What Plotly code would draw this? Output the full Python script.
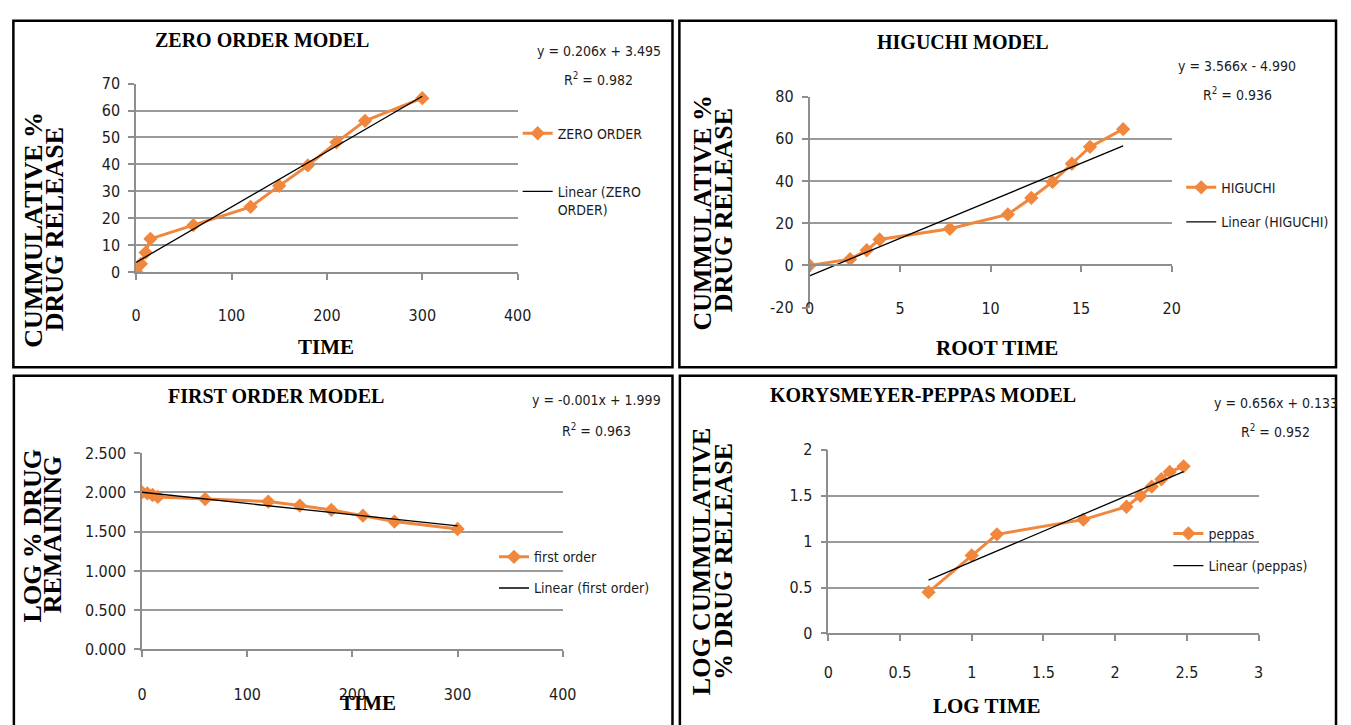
import numpy as np
import plotly.graph_objects as go

W, H = 1351, 725

# ---------------------------------------------------------------- data
time_min = [0, 5, 10, 15, 60, 120, 150, 180, 210, 240, 300]
cum_release = [0, 3.0, 7.2, 12.3, 17.4, 24.2, 32.0, 39.6, 48.2, 56.2, 64.6]
root_time = [0, 2.24, 3.16, 3.87, 7.75, 10.95, 12.25, 13.42, 14.49, 15.49, 17.32]
log_remaining = [2.000, 1.987, 1.966, 1.942, 1.915, 1.882, 1.832, 1.776, 1.703, 1.628, 1.533]
log_time = [0.699, 1.000, 1.176, 1.778, 2.079, 2.176, 2.255, 2.322, 2.380, 2.477]
log_release = [0.45, 0.85, 1.08, 1.24, 1.38, 1.50, 1.60, 1.68, 1.76, 1.82]

# regression text printed on each panel
eq_zero = ["y = 0.206x + 3.495", "R<sup>2</sup> = 0.982"]
eq_higuchi = ["y = 3.566x - 4.990", "R<sup>2</sup> = 0.936"]
eq_first = ["y = -0.001x + 1.999", "R<sup>2</sup> = 0.963"]
eq_peppas = ["y = 0.656x + 0.133", "R<sup>2</sup> = 0.952"]

higuchi_yticks = [-20, 0, 20, 40, 60, 80]
higuchi_yticktext = ["-20", "0", "20", "40", "60", "80"]

# ---------------------------------------------------------------- style
ORANGE = "#F0873C"
GRID = "#9a9a9a"
AXC = "#8e8e8e"
TXT = "#1c1c1c"
NARROW = "DejaVu Sans Condensed, Liberation Sans, sans-serif"
SERIF = "Liberation Serif, Times New Roman, serif"

tick_font = dict(family=NARROW, size=16, color=TXT)
leg_font = dict(family=NARROW, size=14, color=TXT)


def fx(p):
    # pixel -> paper fraction
    return p / W


def fy(p):
    return 1 - p / H


def xdom(a, b):
    return [fx(a), fx(b)]


def ydom(top, bottom):
    return [fy(bottom), fy(top)]


def y_axis(dom, rng, anchor, **kw):
    d = dict(domain=dom, range=rng, anchor=anchor, showgrid=True, gridcolor=GRID,
             gridwidth=1.5, showline=True, linecolor=AXC, linewidth=1.5,
             ticks="outside", ticklen=6, tickwidth=1.5, tickcolor=AXC,
             ticklabelstandoff=5, tickfont=tick_font, zeroline=False, fixedrange=True)
    d.update(kw)
    return d


def x_axis(dom, rng, anchor, dtick, standoff, **kw):
    d = dict(domain=dom, range=rng, anchor=anchor, dtick=dtick, showgrid=False,
             showline=True, linecolor=AXC, linewidth=1.5, ticks="outside",
             ticklen=6, tickwidth=1.5, tickcolor=AXC, ticklabelstandoff=standoff,
             tickfont=tick_font, zeroline=False, fixedrange=True)
    d.update(kw)
    return d


def legend_at(xpx, ypx, valign="middle"):
    return dict(x=fx(xpx), y=fy(ypx), xanchor="left", yanchor="middle",
                bgcolor="rgba(0,0,0,0)", borderwidth=0, font=leg_font, visible=True,
                itemwidth=30, valign=valign, itemclick=False, itemdoubleclick=False)


fig = go.Figure()


def add_panel(xs, ys, xa, ya, name, trend_name, leg_a, leg_b):
    fig.add_trace(go.Scatter(
        x=xs, y=ys, xaxis=xa, yaxis=ya, mode="lines+markers", name=name,
        line=dict(color=ORANGE, width=3), legend=leg_a, showlegend=True,
        marker=dict(symbol="diamond", size=11, color=ORANGE), hoverinfo="skip"))
    slope, icpt = np.polyfit(xs, ys, 1)
    tx = [min(xs), max(xs)]
    fig.add_trace(go.Scatter(
        x=tx, y=[slope * v + icpt for v in tx], xaxis=xa, yaxis=ya, mode="lines",
        name=trend_name, line=dict(color="#000000", width=1.3), legend=leg_b,
        showlegend=True, hoverinfo="skip"))


add_panel(time_min, cum_release, "x", "y", "ZERO ORDER", "Linear (ZERO<br>ORDER)",
          "legend", "legend2")
add_panel(root_time, cum_release, "x2", "y2", "HIGUCHI", "Linear (HIGUCHI)",
          "legend3", "legend4")
add_panel(time_min, log_remaining, "x3", "y3", "first order", "Linear (first order)",
          "legend5", "legend6")
add_panel(log_time, log_release, "x4", "y4", "peppas", "Linear (peppas)",
          "legend7", "legend8")

# Higuchi: the category axis crosses the value axis at y = 0
hig_dom = ydom(90, 306.7)
hig_zero = hig_dom[0] + (0 - (-20)) / 100 * (hig_dom[1] - hig_dom[0])

layout = dict(
    width=W, height=H, margin=dict(l=0, r=0, t=0, b=0), showlegend=True,
    paper_bgcolor="white", plot_bgcolor="white",
    xaxis=x_axis(xdom(133, 520), [0, 400], "y", 100, 22),
    yaxis=y_axis(ydom(76.7, 270), [0, 70], "x", dtick=10),
    xaxis2=x_axis(xdom(816, 1183.3), [0, 20], "free", 5, 23, position=hig_zero),
    yaxis2=y_axis(hig_dom, [-20, 80], "x2", tickvals=higuchi_yticks,
                  ticktext=higuchi_yticktext),
    xaxis3=x_axis(xdom(139, 565.7), [0, 400], "y3", 100, 24),
    yaxis3=y_axis(ydom(456, 657.7), [0, 2.5], "x3", dtick=0.5, tickformat=".3f"),
    xaxis4=x_axis(xdom(835, 1271.5), [0, 3], "y4", 0.5, 18),
    yaxis4=y_axis(ydom(452.7, 641.3), [0, 2], "x4", dtick=0.5),
    legend=legend_at(520, 128),
    legend2=legend_at(520, 197, valign="top"),
    legend3=legend_at(1193, 183.5),
    legend4=legend_at(1193, 219),
    legend5=legend_at(496, 563),
    legend6=legend_at(496, 595),
    legend7=legend_at(1180, 539),
    legend8=legend_at(1180, 572),
)

# panel frames (left, top, right, bottom in pixels)
frames = [(8.5, 12, 677, 368), (684, 12, 1350, 368),
          (9, 376.5, 677, 760), (684.5, 376.5, 1350, 760)]
shapes = [dict(type="rect", xref="paper", yref="paper", x0=fx(a), x1=fx(c), y0=fy(d), y1=fy(b),
               line=dict(color="#000000", width=2.5), fillcolor="rgba(0,0,0,0)", layer="above")
          for a, b, c, d in frames]
layout["shapes"] = shapes

ann = []


def text(s, xpx, ypx, font, angle=0):
    ann.append(dict(text=s, x=fx(xpx), y=fy(ypx), xref="paper", yref="paper",
                    xanchor="center", yanchor="middle", showarrow=False,
                    textangle=angle, font=font))


title_font = dict(family=SERIF, size=20, color="#000000", weight="bold")
axis_font = dict(family=SERIF, size=21, color="#000000", weight="bold")
ytitle_font = dict(family=SERIF, size=26, color="#000000", weight="bold")
eq_font = dict(family=NARROW, size=14, color=TXT)

# panel titles
text("ZERO ORDER MODEL", 261, 32, title_font)
text("HIGUCHI MODEL", 972, 34, title_font)
text("FIRST ORDER MODEL", 275, 397, title_font)
text("KORYSMEYER-PEPPAS MODEL", 931, 396, title_font)

# regression equations
for (l1, l2), cx, y1, y2 in [(eq_zero, 602, 43.5, 72), (eq_higuchi, 1250, 59, 87),
                             (eq_first, 600, 402, 432), (eq_peppas, 1289, 405, 433)]:
    text(l1, cx, y1, eq_font)
    text(l2, cx, y2, eq_font)

# axis titles
text("TIME", 326, 347, axis_font)
text("ROOT TIME", 1006, 348, axis_font)
text("TIME", 368, 713, axis_font)
text("LOG TIME", 996, 716, axis_font)

text("CUMMULATIVE %", 28, 227, ytitle_font, -90)
text("DRUG RELEASE", 50, 226, ytitle_font, -90)
text("CUMMULATIVE %", 707, 209, ytitle_font, -90)
text("DRUG RELEASE", 729, 207, ytitle_font, -90)
text("LOG % DRUG", 28, 541, ytitle_font, -90)
text("REMAINING", 49, 540, ytitle_font, -90)
text("LOG CUMMULATIVE", 706, 568, ytitle_font, -90)
text("% DRUG RELEASE", 728, 567, ytitle_font, -90)

layout["annotations"] = ann
fig.update_layout(**layout)

fig.write_html("out.html", config={"displayModeBar": False})
